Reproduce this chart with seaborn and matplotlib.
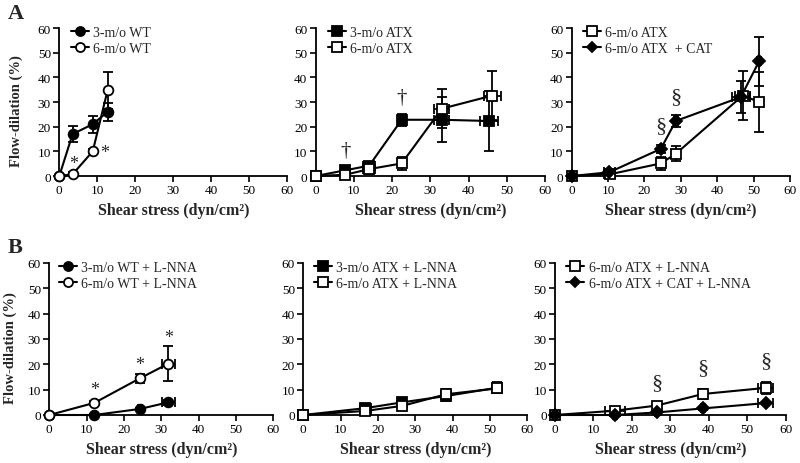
import matplotlib
matplotlib.use('Agg')
import matplotlib.pyplot as plt
import seaborn as sns
import pandas as pd
from matplotlib.lines import Line2D

sns.set_theme(style='ticks')
plt.rcParams['font.family'] = ['Liberation Serif', 'DejaVu Serif']

# ---------------- data ----------------
# Panel A1
a1_wt3_x = [0, 3.5, 8.8, 12.7]
a1_wt3_y = [0, 17, 21, 26]
a1_wt3_yerr = [0, 3.2, 3.5, 3.5]
a1_wt6_x = [0, 3.5, 8.8, 12.7]
a1_wt6_y = [0, 0.7, 10, 34.7]
a1_wt6_yerr = [0, 0.8, 0.8, 7.5]

# Panel A2
a2_atx3_x = [0, 7.7, 14, 22.5, 33, 45.4]
a2_atx3_y = [0, 2.3, 4.2, 22.8, 22.8, 22.3]
a2_atx3_yerr = [0, 1.0, 1.5, 2.5, 9.2, 12]
a2_atx3_xerr = [0, 0.8, 1.5, 1.0, 2.0, 2.3]
a2_atx6_x = [0, 7.7, 14, 22.5, 33, 46.2]
a2_atx6_y = [0, 0.5, 2.8, 5.1, 27.3, 32.6]
a2_atx6_yerr = [0, 0.5, 1.8, 2.5, 8, 9.8]
a2_atx6_xerr = [0, 0.8, 1.5, 1.0, 2.0, 2.2]

# Panel A3
a3_atx6_x = [0, 10.5, 24.5, 28.6, 47, 51.6]
a3_atx6_y = [0, 0.7, 5.1, 9, 32.6, 30]
a3_atx6_yerr = [0, 0.5, 2.5, 3, 10, 12]
a3_atx6_xerr = [0, 1.5, 0.5, 0.5, 2.0, 0.5]
a3_cat_x = [0, 10.3, 24.5, 28.6, 46.5, 51.5]
a3_cat_y = [0, 1.5, 11, 22.3, 32, 46.5]
a3_cat_yerr = [0, 1.0, 1.5, 2.5, 6.5, 10]
a3_cat_xerr = [0, 1.5, 0.5, 0.5, 2.5, 0.5]

# Panel B1
b1_wt3_x = [0, 12.1, 24.3, 31.9]
b1_wt3_y = [0, 0, 2.4, 5]
b1_wt3_yerr = [0, 0.3, 0.5, 1.0]
b1_wt3_xerr = [0, 0.3, 0.5, 1.8]
b1_wt6_x = [0, 12.1, 24.3, 31.9]
b1_wt6_y = [0, 4.8, 14.5, 20.3]
b1_wt6_yerr = [0, 0.8, 1.8, 7]
b1_wt6_xerr = [0, 0.5, 0.5, 1.8]

# Panel B2
b2_atx3_x = [0, 16.6, 26.5, 38.3, 52]
b2_atx3_y = [0, 2.7, 5, 7.5, 10.8]
b2_atx3_yerr = [0, 1.0, 1.3, 2.0, 2.2]
b2_atx3_xerr = [0, 1.5, 1.0, 0.8, 0.8]
b2_atx6_x = [0, 16.6, 26.5, 38.3, 52]
b2_atx6_y = [0, 1.6, 3.6, 8.2, 10.5]
b2_atx6_yerr = [0, 1.0, 1.0, 2.0, 2.0]
b2_atx6_xerr = [0, 1.5, 1.0, 0.8, 0.8]

# Panel B3
b3_atx6_x = [0, 15.6, 26.4, 38.5, 54.8]
b3_atx6_y = [0, 1.7, 3.7, 8.3, 10.7]
b3_atx6_yerr = [0, 0.8, 1.5, 2.0, 2.5]
b3_atx6_xerr = [0, 2.5, 0.5, 1.0, 2.0]
b3_cat_x = [0, 15.6, 26.4, 38.5, 54.8]
b3_cat_y = [0, 0, 1.0, 2.6, 4.7]
b3_cat_yerr = [0, 0.3, 0.5, 0.5, 0.5]
b3_cat_xerr = [0, 0.5, 0.5, 0.5, 2.0]

ticks = [0, 10, 20, 30, 40, 50, 60]

# ---------------- figure ----------------
fig = plt.figure(figsize=(8.0, 4.64), dpi=100)
W, H = 800, 464

def make_ax(x0, x1, ytop, ybot):
    return fig.add_axes([x0 / W, (H - ybot) / H, (x1 - x0) / W, (ybot - ytop) / H])

axA1 = make_ax(59.3, 287.3, 29, 177)
axA2 = make_ax(315.7, 545, 29, 177)
axA3 = make_ax(571.7, 790, 29, 177)
axB1 = make_ax(49.3, 273.3, 264, 416)
axB2 = make_ax(303.3, 527.3, 264, 416)
axB3 = make_ax(555, 785.7, 264, 416)


def series(ax, x, y, yerr, xerr, marker, filled, label, ms=7):
    ax.errorbar(x, y, yerr=yerr, xerr=xerr, fmt='none', ecolor='black',
                elinewidth=1.3, capsize=3.5, capthick=1.3, zorder=2, clip_on=False)
    df = pd.DataFrame({'x': x, 'y': y})
    sns.lineplot(data=df, x='x', y='y', ax=ax, color='black', linewidth=1.5,
                 marker=marker, markersize=ms,
                 markerfacecolor='black' if filled else 'white',
                 markeredgecolor='black', markeredgewidth=1.3,
                 estimator=None, sort=False, legend=False, zorder=3, clip_on=False)
    return Line2D([], [], color='black', linewidth=1.5, marker=marker, markersize=ms - 0.5,
                  markerfacecolor='black' if filled else 'white',
                  markeredgecolor='black', markeredgewidth=1.3, label=label)


def style(ax, ylabel, xlab_y, ylab_x=None):
    ax.set_xlim(0, 60)
    ax.set_ylim(0, 60)
    ax.set_xticks(ticks)
    ax.set_yticks(ticks)
    ax.tick_params(axis='both', labelsize=9.5, length=4, width=1.2, pad=2,
                   colors='black', direction='out')
    for s in ['top', 'right']:
        ax.spines[s].set_visible(False)
    for s in ['left', 'bottom']:
        ax.spines[s].set_linewidth(1.3)
        ax.spines[s].set_color('black')
    ax.set_xlabel('Shear stress (dyn/cm²)', fontsize=11.5, fontweight='bold')
    ax.xaxis.set_label_coords(0.5, xlab_y)
    if ylabel:
        ax.set_ylabel('Flow-dilation (%)', fontsize=10.5, fontweight='bold')
        ax.yaxis.set_label_coords(ylab_x[0], ylab_x[1])
    else:
        ax.set_ylabel('')
    ax.set_facecolor('white')


def legend(ax, handles, x, y):
    ax.legend(handles=handles, loc='upper left', bbox_to_anchor=(x, y),
              frameon=False, fontsize=10, handlelength=1.3, handletextpad=0.3,
              labelspacing=0.25, borderaxespad=0.0, borderpad=0.0)


# A1
h = [series(axA1, a1_wt3_x, a1_wt3_y, a1_wt3_yerr, None, 'o', True, '3-m/o WT'),
     series(axA1, a1_wt6_x, a1_wt6_y, a1_wt6_yerr, None, 'o', False, '6-m/o WT')]
style(axA1, True, -0.175, ((23 - 59.3) / 228, (177 - 111) / 148))
legend(axA1, h, 0.05, 1.015)
for (tx, ty) in [(3.7, 5.0), (11.8, 9.5)]:
    axA1.text(tx, ty, '*', fontsize=13, ha='center', va='center')

# A2
h = [series(axA2, a2_atx3_x, a2_atx3_y, a2_atx3_yerr, a2_atx3_xerr, 's', True, '3-m/o ATX'),
     series(axA2, a2_atx6_x, a2_atx6_y, a2_atx6_yerr, a2_atx6_xerr, 's', False, '6-m/o ATX')]
style(axA2, False, -0.175)
legend(axA2, h, 0.052, 1.015)
for (tx, ty) in [(7.7, 10.3), (22.5, 31.9)]:
    axA2.text(tx, ty, '†', fontsize=15, ha='center', va='center')

# A3
h = [series(axA3, a3_atx6_x, a3_atx6_y, a3_atx6_yerr, a3_atx6_xerr, 's', False, '6-m/o ATX'),
     series(axA3, a3_cat_x, a3_cat_y, a3_cat_yerr, a3_cat_xerr, 'D', True, '6-m/o ATX  + CAT', ms=6)]
style(axA3, False, -0.175)
legend(axA3, h, 0.05, 1.015)
for (tx, ty) in [(24.5, 20.3), (28.6, 32.3)]:
    axA3.text(tx, ty, '§', fontsize=16, ha='center', va='center')

# B1
h = [series(axB1, b1_wt3_x, b1_wt3_y, b1_wt3_yerr, b1_wt3_xerr, 'o', True, '3-m/o WT + L-NNA'),
     series(axB1, b1_wt6_x, b1_wt6_y, b1_wt6_yerr, b1_wt6_xerr, 'o', False, '6-m/o WT + L-NNA')]
style(axB1, True, -0.168, ((17.5 - 49.3) / 224, (416 - 348) / 152))
legend(axB1, h, 0.042, 1.015)
for (tx, ty) in [(12.1, 10.2), (24.3, 19.9), (31.9, 30.6)]:
    axB1.text(tx, ty, '*', fontsize=13, ha='center', va='center')

# B2
h = [series(axB2, b2_atx3_x, b2_atx3_y, b2_atx3_yerr, b2_atx3_xerr, 's', True, '3-m/o ATX + L-NNA'),
     series(axB2, b2_atx6_x, b2_atx6_y, b2_atx6_yerr, b2_atx6_xerr, 's', False, '6-m/o ATX + L-NNA')]
style(axB2, False, -0.168)
legend(axB2, h, 0.048, 1.015)

# B3
h = [series(axB3, b3_atx6_x, b3_atx6_y, b3_atx6_yerr, b3_atx6_xerr, 's', False, '6-m/o ATX + L-NNA'),
     series(axB3, b3_cat_x, b3_cat_y, b3_cat_yerr, b3_cat_xerr, 'D', True, '6-m/o ATX + CAT + L-NNA', ms=6)]
style(axB3, False, -0.168)
legend(axB3, h, 0.049, 1.015)
for (tx, ty) in [(26.4, 12.6), (38.5, 18.9), (54.8, 21.5)]:
    axB3.text(tx, ty, '§', fontsize=16, ha='center', va='center')

fig.text(8 / W, 1 - 14 / H, 'A', fontsize=16, fontweight='bold', ha='left', va='center')
fig.text(8 / W, 1 - 248 / H, 'B', fontsize=16, fontweight='bold', ha='left', va='center')

fig.savefig('out.png', dpi=100, facecolor='white')
